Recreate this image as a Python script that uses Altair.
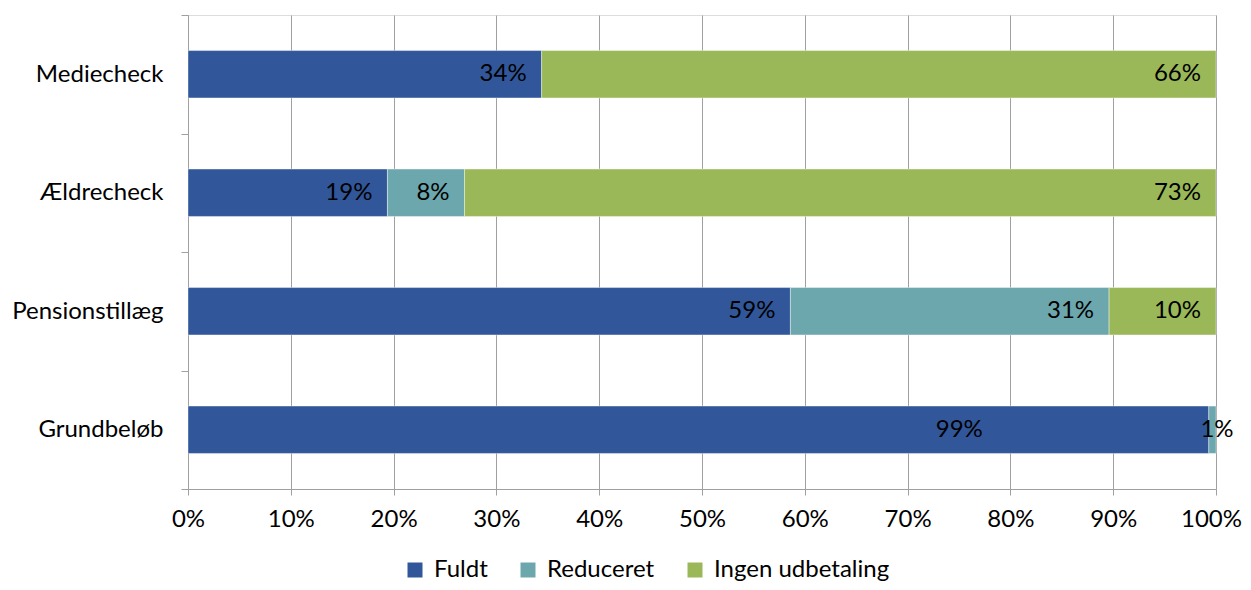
import altair as alt
import pandas as pd

categories = ["Mediecheck", "Ældrecheck", "Pensionstillæg", "Grundbeløb"]
series = ["Fuldt", "Reduceret", "Ingen udbetaling"]
fuldt = [0.344, 0.194, 0.586, 0.993]
reduceret = [0.0, 0.075, 0.310, 0.007]
ingen = [0.656, 0.731, 0.104, 0.0]
colors = ["#31579A", "#6CA7AE", "#9AB858"]

rows = []
for i, c in enumerate(categories):
    start = 0.0
    for s, vals in zip(series, [fuldt, reduceret, ingen]):
        v = vals[i]
        if v > 0:
            rows.append({"cat": c, "series": s, "start": start, "end": start + v,
                         "label": f"{round(v * 100)}%",
                         "small": v < 0.03, "order": series.index(s)})
        start += v
df = pd.DataFrame(rows)

FONT = "Lato"
FS = 24

y_enc = alt.Y("cat:N", sort=categories, title=None,
              scale=alt.Scale(paddingInner=0, paddingOuter=0),
              axis=alt.Axis(tickBand="extent", grid=False, domainColor="#A0A0A0",
                            tickColor="#A0A0A0", tickSize=7, labelPadding=18,
                            labelFont=FONT, labelFontSize=FS, labelColor="black"))
x_enc = alt.X("start:Q", title=None,
              scale=alt.Scale(domain=[0, 1], nice=False),
              axis=alt.Axis(format="%", values=[i / 10 for i in range(11)],
                            grid=True, gridColor="#A0A0A0", domainColor="#A0A0A0",
                            tickColor="#A0A0A0", tickSize=6, labelPadding=12,
                            labelFont=FONT, labelFontSize=FS, labelColor="black",
                            labelFlush=False,
                            labelOffset={"condition": {"test": "datum.value >= 1", "value": -5},
                                         "value": 0}))

base = alt.Chart(df)
bars = base.mark_bar(height=alt.RelativeBandSize(0.4), stroke="white",
                     strokeOpacity=0.4, strokeWidth=1).encode(
    y=y_enc,
    x=x_enc,
    x2="end:Q",
    color=alt.Color("series:N", sort=series,
                    scale=alt.Scale(domain=series, range=colors),
                    legend=alt.Legend(title=None, orient="none", direction="horizontal",
                                      legendX=215, legendY=543, symbolType="square",
                                      symbolSize=225, symbolStrokeWidth=0,
                                      labelFont=FONT, labelFontSize=FS, labelColor="black",
                                      labelLimit=0, columnPadding=28, labelOffset=7)),
    order="order:Q",
)
is_99 = "datum.cat == 'Grundbeløb' && datum.series == 'Fuldt'"
labels_big = base.transform_filter(f"!datum.small && !({is_99})").mark_text(
    align="right", baseline="middle", dx=-15, font=FONT, fontSize=FS, color="black"
).encode(y=alt.Y("cat:N", sort=categories), x="end:Q", text="label:N")
labels_99 = base.transform_filter(is_99).mark_text(
    align="right", baseline="middle", dx=-226, font=FONT, fontSize=FS, color="black"
).encode(y=alt.Y("cat:N", sort=categories), x="end:Q", text="label:N")
labels_small = base.transform_filter("datum.small").mark_text(
    align="center", baseline="middle", dx=1, font=FONT, fontSize=FS, color="black"
).encode(y=alt.Y("cat:N", sort=categories), x="end:Q", text="label:N")

chart = alt.layer(bars, labels_big, labels_99, labels_small).properties(
    width=1028, height=474,
    autosize=alt.AutoSizeParams(type="none"),
    padding={"left": 180, "top": 7, "right": 27, "bottom": 92},
).configure_view(stroke=None).configure(background="white")

chart.save("out.html", embed_options={"renderer": "svg", "actions": False})
